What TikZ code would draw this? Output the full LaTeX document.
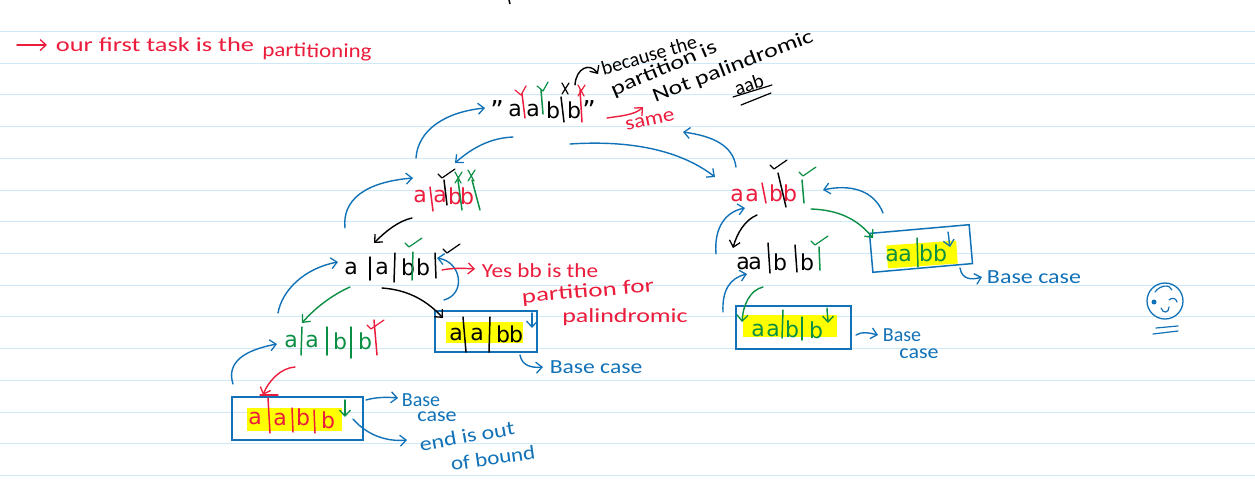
\documentclass[tikz,border=0pt]{standalone}
\usepackage{fontspec}
\setmainfont{DejaVu Sans}
\newfontfamily\handfont{Carlito}
\usetikzlibrary{arrows.meta}
\definecolor{inkblue}{HTML}{1272B8}
\definecolor{inkred}{HTML}{EC1C3C}
\definecolor{inkgreen}{HTML}{0B8F44}
\definecolor{rulecol}{HTML}{CFE8F8}
\definecolor{hilite}{HTML}{FFFF00}
\tikzset{
  x=1pt,y=-1pt,
  ruleline/.style={draw=rulecol,line width=1pt},
  glyph/.style={anchor=base,inner sep=0pt,font=\fontsize{22}{22}\selectfont},
  hand/.style={inner sep=0pt,font=\handfont\fontsize{20}{20}\selectfont},
  barstroke/.style={line width=1.5pt,line cap=round},
  tickstroke/.style={line width=1.2pt,line cap=round,line join=round},
  flow/.style={line width=1.4pt,line cap=round,-{Straight Barb[length=6pt,width=11pt,line width=1.3pt]}},
  framebox/.style={draw=inkblue,line width=1.5pt,inner sep=0pt},
  glow/.style={fill=hilite,draw=none},
}
% horizontal stretch of a handwritten label
\newcommand{\wdt}[2]{\scalebox{#1}[1]{#2}}
% name, x, baseline y, colour, character
\newcommand{\ltr}[5]{\node[glyph,text=#4] (#1) at (#2,#3) {#5};}
% colour, x1,y1, x2,y2
\newcommand{\barl}[5]{\draw[barstroke,#1] (#2,#3) -- (#4,#5);}
% colour, x, y  (tick starts at x,y)
\newcommand{\chk}[3]{\draw[tickstroke,#1] (#2,#3) -- ++(4,4) -- ++(13,-9);}
\newcommand{\chks}[3]{\draw[tickstroke,#1] (#2,#3) -- ++(6,5) -- ++(5,-9);}
\newcommand{\crs}[3]{\draw[tickstroke,#1] (#2-3,#3-5) -- (#2+3,#3+6) (#2+4,#3-5) -- (#2-3,#3+6);}
% style, name, start, c1, c2, end
\newcommand{\arc}[6]{\coordinate (#2S) at (#3); \coordinate (#2E) at (#6);
  \draw[flow,#1] (#2S) .. controls (#4) and (#5) .. (#2E);}
\begin{document}
\begin{tikzpicture}
\useasboundingbox (0,0) rectangle (1255,498);
\fill[white] (0,0) rectangle (1255,498);
\foreach \y in {31,63,94,126,158,190,221,253,285,316,348,380,412,443,475}
  \draw[ruleline] (0,\y) -- (1255,\y);
\draw[black,line width=1.5pt] (509,0) -- (510,4);

% title
\arc{inkred}{ta}{17,45}{27,45}{37,45}{47,45}
\node[hand,text=inkred] (title1) at (155,45) {\wdt{1.32}{our first task is the}};
\node[hand,text=inkred,rotate=-1] (title2) at (317,52) {\wdt{1.15}{partitioning}};

% highlights and boxes
\fill[glow] (247,408) rectangle (342,431);
\fill[glow] (446,322) rectangle (523,343);
\fill[glow] (743,315) rectangle (837,337);
\fill[glow,rotate around={4:(922,254)}] (887,243) rectangle (957,266);
\node[framebox,minimum width=131pt,minimum height=43pt] (boxA) at (297.5,418.5) {};
\node[framebox,minimum width=102pt,minimum height=41pt] (boxB) at (486,331.5) {};
\node[framebox,minimum width=115pt,minimum height=43pt] (boxC) at (793.5,327.5) {};
\node[framebox,minimum width=100pt,minimum height=39pt,rotate=5] (boxD) at (921,248.5) {};

% root string
\node[glyph,text=black,font=\fontsize{26}{26}\selectfont] (r0) at (497,119) {\symbol{34}};
\ltr{r1}{515}{116}{black}{a}
\ltr{r2}{533}{116}{black}{a}
\ltr{r3}{553}{118}{black}{b}
\ltr{r4}{574}{118}{black}{b}
\node[glyph,text=black,font=\fontsize{26}{26}\selectfont] (r5) at (589,119) {\symbol{34}};
\barl{inkred}{522}{94}{525}{118}
\barl{inkgreen}{541}{90}{543}{114}
\barl{black}{561}{97}{564}{122}
\barl{inkred}{580}{90}{582}{122}
\chks{inkred}{515}{90}
\chks{inkgreen}{537}{86}
\crs{black}{565}{88}
\crs{inkred}{581}{90}

% level 2 left
\ltr{l1}{420}{202}{inkred}{a}
\ltr{l2}{440}{202}{inkred}{a}
\ltr{l3}{455}{204}{inkred}{b}
\ltr{l4}{467}{204}{inkred}{b}
\barl{inkred}{430}{187}{433}{211}
\barl{black}{444}{180}{447}{205}
\barl{inkgreen}{458}{180}{462}{210}
\barl{inkgreen}{472}{180}{480}{210}
\chk{black}{438}{174}
\crs{inkgreen}{458}{177}
\crs{inkgreen}{471}{175}

% level 2 right
\ltr{m1}{737}{201}{inkred}{a}
\ltr{m2}{752}{201}{inkred}{a}
\ltr{m3}{776}{201}{inkred}{b}
\ltr{m4}{790}{201}{inkred}{b}
\barl{inkred}{762}{183}{766}{203}
\barl{black}{778}{173}{786}{207}
\barl{inkgreen}{802}{180}{804}{203}
\chk{black}{770}{165}
\chk{inkgreen}{799}{172}

% level 3 left
\ltr{n1}{351}{274}{black}{a}
\ltr{n2}{382}{274}{black}{a}
\ltr{n3}{408}{275}{black}{b}
\ltr{n4}{423}{275}{black}{b}
\barl{black}{370}{257}{370}{280}
\barl{black}{395}{253}{394}{282}
\barl{inkgreen}{413}{252}{412}{280}
\barl{black}{435}{253}{436}{278}
\chk{inkgreen}{405}{243}
\chk{black}{443}{249}

% level 4 left
\ltr{p1}{291}{347}{inkgreen}{a}
\ltr{p2}{312}{347}{inkgreen}{a}
\ltr{p3}{340}{349}{inkgreen}{b}
\ltr{p4}{365}{349}{inkgreen}{b}
\barl{inkgreen}{302}{327}{301}{355}
\barl{inkgreen}{327}{327}{327}{355}
\barl{inkgreen}{351}{327}{351}{358}
\barl{inkred}{374}{320}{377}{355}
\chk{inkred}{367}{325}

% box A letters
\ltr{a1}{255}{424}{inkred}{a}
\ltr{a2}{280}{425}{inkred}{a}
\ltr{a3}{303}{425}{inkred}{b}
\ltr{a4}{328}{428}{inkred}{b}
\barl{inkred}{268}{398}{270}{433}
\barl{inkred}{292}{408}{293}{432}
\barl{inkred}{314}{410}{315}{433}

% box B letters
\ltr{b1}{456}{340}{black}{a}
\ltr{b2}{477}{340}{black}{a}
\ltr{b3}{503}{342}{black}{b}
\ltr{b4}{516}{342}{black}{b}
\barl{black}{463}{317}{466}{352}
\barl{black}{490}{317}{489}{352}

% level 3 right
\ltr{q1}{743}{269}{black}{a}
\ltr{q2}{755}{269}{black}{a}
\ltr{q3}{780}{270}{black}{b}
\ltr{q4}{807}{270}{black}{b}
\barl{black}{768}{243}{770}{273}
\barl{black}{795}{245}{797}{272}
\barl{inkgreen}{819}{247}{820}{270}
\chk{inkgreen}{811}{241}

% box C letters
\ltr{c1}{758}{336}{inkgreen}{a}
\ltr{c2}{773}{336}{inkgreen}{a}
\ltr{c3}{792}{337}{inkgreen}{b}
\ltr{c4}{816}{338}{inkgreen}{b}
\barl{inkgreen}{783}{310}{782}{338}
\barl{inkgreen}{802}{317}{802}{340}

% box D letters
\ltr{d1}{892}{261}{inkgreen}{a}
\ltr{d2}{905}{261}{inkgreen}{a}
\ltr{d3}{926}{261}{inkgreen}{b}
\ltr{d4}{940}{261}{inkgreen}{b}
\barl{inkgreen}{917}{238}{918}{267}

% blue flow arrows
\arc{inkblue}{f1}{416,158}{418,130}{445,112}{485,108}
\arc{inkblue}{f2}{513,137}{490,138}{472,148}{455,163}
\arc{inkblue}{f3}{570,144}{630,140}{680,150}{715,177}
\arc{inkblue}{f4}{736,167}{733,145}{712,136}{683,132}
\arc{inkblue}{f5}{345,228}{342,200}{365,182}{413,178}
\arc{inkblue}{f6}{278,313}{282,290}{305,268}{338,262}
\arc{inkblue}{f7}{233,384}{226,362}{245,350}{277,344}
\arc{inkblue}{f8}{444,300}{466,294}{462,262}{437,258}
\arc{inkblue}{f9}{716,254}{714,228}{725,212}{745,208}
\arc{inkblue}{f10}{723,312}{722,290}{730,278}{747,274}
\arc{inkblue}{f11}{883,213}{874,190}{850,184}{823,190}

% other arrows
\arc{inkred}{g1}{607,118}{620,116}{635,115}{643,107}
\arc{inkred}{g2}{442,270}{452,268}{462,268}{475,269}
\arc{inkred}{g3}{295,367}{280,368}{268,382}{263,395}
\draw[tickstroke,inkred] (260,395) -- (278,395);
\arc{black}{g4}{412,218}{398,221}{385,232}{374,243}
\arc{black}{g5}{382,288}{410,290}{428,302}{443,318}
\arc{black}{g6}{757,215}{745,220}{737,233}{733,248}
\arc{black}{g7}{575,85}{576,68}{590,62}{598,74}
\arc{inkgreen}{g8}{350,287}{332,295}{315,308}{302,323}
\arc{inkgreen}{g9}{763,287}{750,290}{743,305}{742,322}
\arc{inkgreen}{g10}{811,209}{840,210}{858,220}{873,238}

% small down arrows
\arc{inkblue}{h1}{532,313}{532,318}{532,323}{532,328}
\arc{inkgreen}{h2}{345,400}{345,405}{345,411}{345,417}
\arc{inkgreen}{h3}{827,308}{827,313}{828,318}{828,323}
\arc{inkblue}{h4}{948,232}{949,237}{949,242}{950,247}

% base case pointers
\arc{inkblue}{k1}{520,355}{522,366}{532,368}{543,367}
\arc{inkblue}{k2}{366,400}{376,397}{388,397}{398,398}
\arc{inkblue}{k3}{353,419}{366,434}{385,442}{407,440}
\arc{inkblue}{k4}{856,335}{862,331}{870,333}{878,335}
\arc{inkblue}{k5}{960,268}{962,280}{972,280}{982,277}

% labels
\node[hand,text=black,rotate=16] (t1) at (649,55) {\wdt{1}{because the}};
\node[hand,text=black,rotate=23] (t2) at (664,69) {\wdt{1.3}{partition is}};
\node[hand,text=black,rotate=21] (t3) at (733,67) {\wdt{1.3}{Not palindromic}};
\node[hand,text=black,rotate=18] (t4) at (749,84) {aab};
\draw[tickstroke,black] (733,97) -- (772,85);
\draw[tickstroke,black] (741,105) -- (771,93);
\node[hand,text=inkred,rotate=12] (t5) at (650,121) {\wdt{1.15}{same}};
\node[hand,text=inkred] (t6) at (540,271) {\wdt{1.16}{Yes bb is the}};
\node[hand,text=inkred,rotate=5] (t7) at (588,292) {\wdt{1.35}{partition for}};
\node[hand,text=inkred] (t8) at (625,317) {\wdt{1.3}{palindromic}};
\node[hand,text=inkblue] (t9) at (596,367) {\wdt{1.18}{Base case}};
\node[hand,text=inkblue] (t10) at (421,400) {Base};
\node[hand,text=inkblue] (t11) at (437,417) {\wdt{1.1}{case}};
\node[hand,text=inkblue,rotate=10] (t12) at (467,436) {\wdt{1.2}{end is out}};
\node[hand,text=inkblue,rotate=8] (t13) at (493,458) {\wdt{1.15}{of bound}};
\node[hand,text=inkblue] (t14) at (902,335) {Base};
\node[hand,text=inkblue] (t15) at (919,354) {\wdt{1.1}{case}};
\node[hand,text=inkblue] (t16) at (1034,277) {\wdt{1.2}{Base case}};

% face
\draw[inkblue,line width=1.3pt] (1165,301) circle[radius=18pt];
\fill[inkblue] (1154,302) circle[radius=2.5pt];
\draw[inkblue,line width=1.2pt,line cap=round] (1169,300) .. controls (1172,297) and (1176,298) .. (1177,302);
\draw[inkblue,line width=1.2pt,line cap=round] (1161,308) .. controls (1163,314) and (1169,313) .. (1169,307);
\draw[inkblue,line width=1.2pt,line cap=round] (1155,292) .. controls (1160,285) and (1170,284) .. (1172,290);
\draw[inkblue,line width=1.2pt,line cap=round] (1156,328) -- (1178,326);
\draw[inkblue,line width=1.2pt,line cap=round] (1153,334) -- (1178,331);
\end{tikzpicture}
\end{document}
